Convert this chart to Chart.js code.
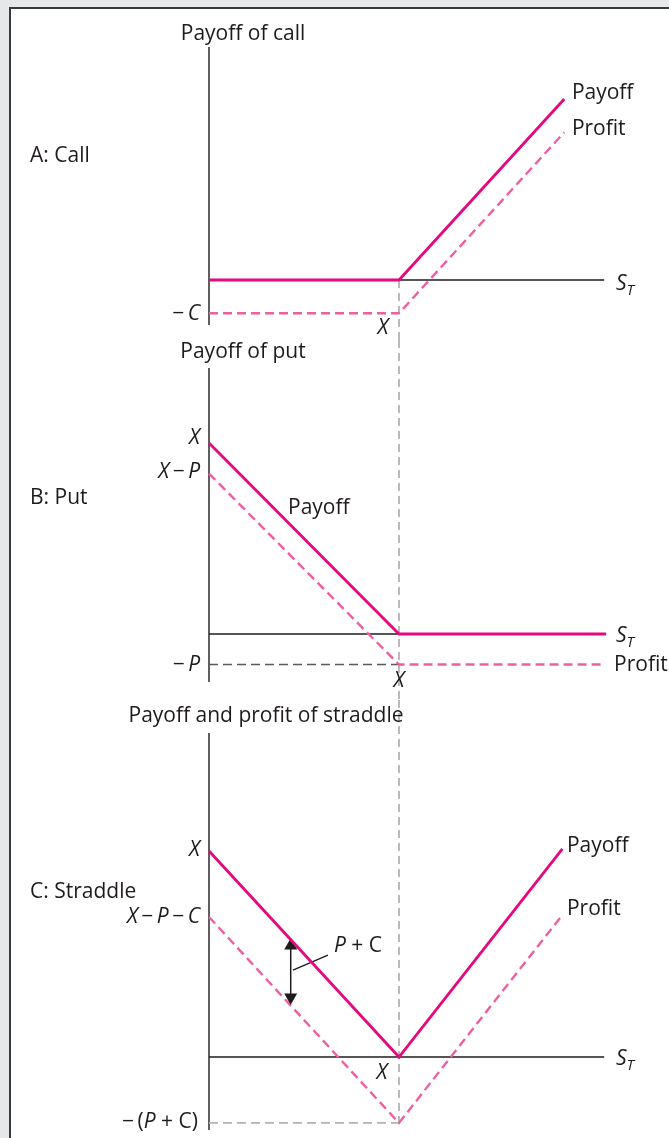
<!DOCTYPE html>
<html>
<head>
<script src="https://cdn.jsdelivr.net/npm/chart.js@4.4.0/dist/chart.umd.min.js"></script>
<style>
  body { margin: 0; background: #e6e7e8; width: 669px; height: 1138px; overflow: hidden; position: relative; }
  #frame { position: absolute; left: 9px; top: 7px; width: 660px; height: 1131px; background: #fff;
           border-left: 2px solid #3a3a3a; border-top: 2px solid #3a3a3a; }
  canvas { position: absolute; left: 0; }
</style>
</head>
<body>
<div id="frame"></div>
<canvas id="callChart" width="669" height="340" style="top:0px"></canvas>
<canvas id="putChart" width="669" height="360" style="top:340px"></canvas>
<canvas id="straddleChart" width="669" height="438" style="top:700px"></canvas>

<script>
// values (S_T in units where X = 100)
const strike = 100;
const axisEnd = 208;

// A: call
const callST = [0, 100, 187];
const callPayoff = [0, 0, 87];
const callProfit = [-16, -16, 71];

// B: put
const putST = [0, 100, 209];
const putPayoff = [100, 0, 0];
const putProfitST = [0, 100, 208];
const putProfit = [84, -16, -16];

// C: straddle
const stradST = [0, 100, 186];
const stradPayoff = [100, 0, 101];
const stradProfit = [68, -32, 69];
const arrowST = 43;
const arrowEnds = [54, 29];

const PINK = "#e5097f";
const PINK_LIGHT = "#ee5fa2";
const INK = "#1f1b1c";
const FONT = '"Open Sans", sans-serif';
const FS = 21;
const MINUS = "\u2009\u2212\u2009";

function pts(xs, ys) {
  return xs.map((x, i) => ({ x: x, y: ys[i] }));
}

function line(xs, ys, color, width, dash, order) {
  return {
    data: pts(xs, ys), showLine: true, borderColor: color, borderWidth: width,
    borderDash: dash || [], pointRadius: 0, order: order, fill: false
  };
}

// text labels: parts are [text, style] with style "n" normal, "i" italic, "s" italic subscript
const textPlugin = {
  id: "texts",
  afterDraw(chart, args, opts) {
    const ctx = chart.ctx;
    const xs = chart.scales.x, ys = chart.scales.y;
    ctx.save();
    ctx.fillStyle = INK;
    ctx.textBaseline = "middle";
    (opts.items || []).forEach(item => {
      const size = item.size || FS;
      const fontOf = st => st === "n" ? size + "px " + FONT
        : st === "i" ? "italic " + size + "px " + FONT
        : "italic " + Math.round(size * 0.72) + "px " + FONT;
      let total = 0;
      item.parts.forEach(p => { ctx.font = fontOf(p[1]); total += ctx.measureText(p[0]).width; });
      let px = xs.getPixelForValue(item.x);
      const py = ys.getPixelForValue(item.y);
      if (item.align === "right") px -= total;
      if (item.align === "center") px -= total / 2;
      item.parts.forEach(p => {
        ctx.font = fontOf(p[1]);
        ctx.textAlign = "left";
        ctx.fillText(p[0], px, p[1] === "s" ? py + 7 : py);
        px += ctx.measureText(p[0]).width;
      });
    });
    ctx.restore();
  }
};

function makeChart(id, datasets, yMin, yMax, items) {
  return new Chart(document.getElementById(id), {
    type: "scatter",
    data: { datasets: datasets },
    options: {
      responsive: false, animation: false, events: [],
      devicePixelRatio: 1,
      layout: { padding: 0, autoPadding: false },
      scales: {
        x: { type: "linear", min: -110, max: 242.105, display: false },
        y: { type: "linear", min: yMin, max: yMax, display: false }
      },
      plugins: { legend: { display: false }, tooltip: { enabled: false }, texts: { items: items } }
    },
    plugins: [textPlugin]
  });
}

const ST = [["S", "i"], ["T", "s"]];

// Panel A
makeChart("callChart", [
  line(callST, callPayoff, PINK, 2.8, null, 0),
  line(callST, callProfit, PINK_LIGHT, 2.4, [9, 5], 1),
  line([strike, strike], [0, -28.85], "#b3b3b3", 1.8, [8, 5], 2),
  line([0, 0], [112, -21.6], INK, 1.4, null, 3),
  line([0, axisEnd], [0, 0], INK, 1.4, null, 3)
], -28.85, 134.6, [
  { x: 17.9, y: 118.3, align: "center", parts: [["Payoff of call", "n"]] },
  { x: -94.2, y: 59.6, align: "left", parts: [["A: Call", "n"]] },
  { x: 191, y: 89.9, align: "left", parts: [["Payoff", "n"]] },
  { x: 191, y: 72.6, align: "left", parts: [["Profit", "n"]] },
  { x: 214.2, y: -1.9, align: "left", parts: ST },
  { x: -4.7, y: -16.3, align: "right", parts: [["\u2212\u2009", "n"], ["C", "i"]] },
  { x: 91.6, y: -23.1, align: "center", parts: [["X", "i"]] }
]);

// Panel B
makeChart("putChart", [
  line(putST, putPayoff, PINK, 2.8, null, 0),
  line(putProfitST, putProfit, PINK_LIGHT, 2.4, [9, 5], 1),
  line([0, strike], [-16, -16], "#5a5a5a", 1.5, [9, 5], 2),
  line([strike, strike], [153.9, -34.55], "#b3b3b3", 1.8, [8, 5], 2),
  line([0, 0], [139.3, -25.1], INK, 1.4, null, 3),
  line([0, axisEnd], [0, 0], INK, 1.4, null, 3)
], -34.55, 153.9, [
  { x: 17.9, y: 147.6, align: "center", parts: [["Payoff of put", "n"]] },
  { x: -94.2, y: 71.2, align: "left", parts: [["B: Put", "n"]] },
  { x: -4.7, y: 102.6, align: "right", parts: [["X", "i"]] },
  { x: -4.7, y: 84.8, align: "right", parts: [["X", "i"], [MINUS, "n"], ["P", "i"]] },
  { x: 41.6, y: 66, align: "left", parts: [["Payoff", "n"]] },
  { x: 214.2, y: -1, align: "left", parts: ST },
  { x: -4.7, y: -16.2, align: "right", parts: [["\u2212\u2009", "n"], ["P", "i"]] },
  { x: 213.2, y: -16.2, align: "left", parts: [["Profit", "n"]] },
  { x: 100, y: -24.6, align: "center", parts: [["X", "i"]] }
]);

// Panel C
const arrowSet = line([arrowST, arrowST], arrowEnds, INK, 1.5, null, 0);
arrowSet.pointRadius = 6;
arrowSet.pointStyle = "triangle";
arrowSet.pointRotation = [0, 180];
arrowSet.pointBackgroundColor = INK;
arrowSet.pointBorderColor = INK;

makeChart("straddleChart", [
  line(stradST, stradPayoff, PINK, 2.8, null, 0),
  line(stradST, stradProfit, PINK_LIGHT, 2.4, [9, 5], 1),
  arrowSet,
  line([44.2, 62.6], [42.2, 49.5], INK, 1.3, null, 0),
  line([0, strike], [-32, -32], "#b3b3b3", 1.8, [9, 5], 2),
  line([strike, strike], [173.3, -32], "#b3b3b3", 1.8, [8, 5], 2),
  line([0, 0], [157.3, -35.4], INK, 1.4, null, 3),
  line([0, axisEnd], [0, 0], INK, 1.4, null, 3)
], -39.3, 173.3, [
  { x: 30, y: 165.5, align: "center", parts: [["Payoff and profit of straddle", "n"]] },
  { x: -94.2, y: 80.1, align: "left", parts: [["C: Straddle", "n"]] },
  { x: -4.7, y: 100.5, align: "right", parts: [["X", "i"]] },
  { x: -4.7, y: 68, align: "right", parts: [["X", "i"], [MINUS, "n"], ["P", "i"], [MINUS, "n"], ["C", "i"]] },
  { x: -5.8, y: -31.6, align: "right", parts: [["\u2212\u2009(", "n"], ["P", "i"], [" + C)", "n"]] },
  { x: 188.4, y: 102.4, align: "left", parts: [["Payoff", "n"]] },
  { x: 188.4, y: 71.8, align: "left", parts: [["Profit", "n"]] },
  { x: 214.2, y: -1, align: "left", parts: ST },
  { x: 91, y: -7.8, align: "center", parts: [["X", "i"]] },
  { x: 65.8, y: 53.9, align: "left", parts: [["P", "i"], [" + C", "n"]] }
]);
</script>
</body>
</html>
